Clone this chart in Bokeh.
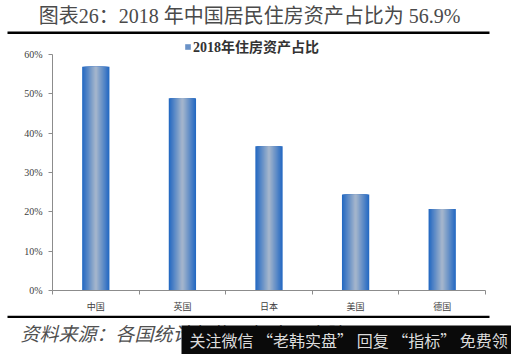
from bokeh.plotting import figure
from bokeh.layouts import column
from bokeh.models import (Range1d, FixedTicker, PrintfTickFormatter, Label,
                          BoxAnnotation, Legend, LegendItem, ColumnDataSource)
from bokeh.embed import file_html
from bokeh.resources import INLINE

# ---- data ----
countries = ["中国", "英国", "日本", "美国", "德国"]
housing_share = [56.9, 48.9, 36.7, 24.4, 20.7]
y_ticks = [0, 10, 20, 30, 40, 50, 60]
title_text = "图表26：2018 年中国居民住房资产占比为 56.9%"
series_name = "2018年住房资产占比"
source_text = "资料来源：各国统计机构，恒大研究院"
watermark_text = "关注微信 “老韩实盘” 回复 “指标” 免费领"

# ---- geometry (canvas pixels) ----
W, H = 511, 354
TOP_H = 36            # title strip
BOT_Y = 315           # start of footer strip
FL, FR, FT, FB = 52, 485, 54, 290   # axis extents (60% .. 0%)
N = len(countries)
YMAX = 60
SERIF_CJK = "'Liberation Serif', 'Noto Sans CJK SC'"


def blank(y0, y1):
    """A strip whose data coordinates equal canvas pixels."""
    f = figure(width=W, height=y1 - y0, output_backend="svg", toolbar_location=None,
               x_axis_type=None, y_axis_type=None,
               x_range=Range1d(0, W), y_range=Range1d(y1, y0), min_border=0,
               frame_align=False)
    f.outline_line_color = None
    f.background_fill_color = "white"
    f.border_fill_color = "white"
    return f


# ---------------- title strip ----------------
top = blank(0, TOP_H)
top.add_layout(Label(x=249, y=15, text=title_text,
                     text_align="center", text_baseline="middle",
                     text_font=SERIF_CJK, text_font_size="20px", text_color="#4a4a4a"))
top.add_layout(BoxAnnotation(left=7, right=489, top=31, bottom=33.5,
                             fill_color="black", fill_alpha=1, line_color=None))

# ---------------- main chart ----------------
px_per_unit = (FB - FT) / YMAX
main = figure(width=W, height=BOT_Y - TOP_H, output_backend="svg", toolbar_location=None,
              x_range=Range1d(0.5, N + 0.5),
              y_range=Range1d(0, (FB - TOP_H) / px_per_unit),
              min_border_left=FL, min_border_right=W - FR,
              min_border_top=0, min_border_bottom=BOT_Y - FB,
              frame_align=False)
main.outline_line_color = None
main.xgrid.visible = False
main.ygrid.visible = False
main.background_fill_color = "white"
main.border_fill_color = "white"

x_pos = list(range(1, N + 1))
src = ColumnDataSource(dict(x=x_pos, top=housing_share))
dark = (38, 106, 194)
light = (162, 180, 204)
K = 12
BAR_W = 0.315
renderers = []
for i in range(K):
    t = i / (K - 1)
    c = tuple(int(round(dark[j] + (light[j] - dark[j]) * t)) for j in range(3))
    r = main.vbar(x="x", top="top", bottom=0, width=BAR_W * (1 - i / K),
                  source=src, fill_color="#%02x%02x%02x" % c, line_color=None)
    renderers.append(r)

LABEL_GRAY = "#404040"
AXIS_GRAY = "#8c8c8c"
yax = main.yaxis[0]
yax.ticker = FixedTicker(ticks=y_ticks)
yax.formatter = PrintfTickFormatter(format="%d%%")
yax.bounds = (0, YMAX)
yax.major_tick_in = 0
yax.major_tick_out = 4
yax.minor_tick_line_color = None
yax.axis_line_color = AXIS_GRAY
yax.major_tick_line_color = AXIS_GRAY
yax.major_label_text_font = "Liberation Serif"
yax.major_label_text_font_size = "10px"
yax.major_label_text_color = LABEL_GRAY
yax.major_label_standoff = 6

xax = main.xaxis[0]
xax.ticker = FixedTicker(ticks=x_pos, minor_ticks=[0.5 + i for i in range(N + 1)])
xax.major_label_overrides = {x: name for x, name in zip(x_pos, countries)}
xax.major_tick_in = 0
xax.major_tick_out = 0
xax.minor_tick_in = 0
xax.minor_tick_out = 4
xax.minor_tick_line_color = AXIS_GRAY
xax.axis_line_color = AXIS_GRAY
xax.major_label_text_font = "Noto Sans CJK SC"
xax.major_label_text_font_size = "9px"
xax.major_label_text_color = LABEL_GRAY
xax.major_label_standoff = 5

legend = Legend(items=[LegendItem(label=series_name, renderers=[renderers[K // 2]])],
                location=(132, FB - 56), orientation="horizontal",
                border_line_color=None, background_fill_alpha=0,
                label_text_font=SERIF_CJK,
                label_text_font_style="bold", label_text_font_size="14px",
                label_text_color="#333333", glyph_width=7, glyph_height=7,
                padding=0, margin=0, label_standoff=2)
main.add_layout(legend)

# ---------------- footer strip ----------------
bot = blank(BOT_Y, H)
bot.add_layout(BoxAnnotation(left=7, right=489, top=BOT_Y, bottom=BOT_Y + 2.5,
                             fill_color="black", fill_alpha=1, line_color=None))
bot.add_layout(Label(x=20, y=332, text=source_text,
                     text_align="left", text_baseline="middle",
                     text_font="Noto Sans CJK SC", text_font_style="italic",
                     text_font_size="19px", text_color="#505050"))
bot.add_layout(BoxAnnotation(left=181, right=W, top=325, bottom=H,
                             fill_color="#0a0a0a", fill_alpha=1, line_color=None))
bot.add_layout(Label(x=189, y=339, text=watermark_text,
                     text_align="left", text_baseline="middle",
                     text_font="Noto Sans CJK SC",
                     text_font_size="16px", text_color="#dcdcdc"))

layout = column(top, main, bot, spacing=0)
open("out.html", "w").write(file_html(layout, INLINE))
